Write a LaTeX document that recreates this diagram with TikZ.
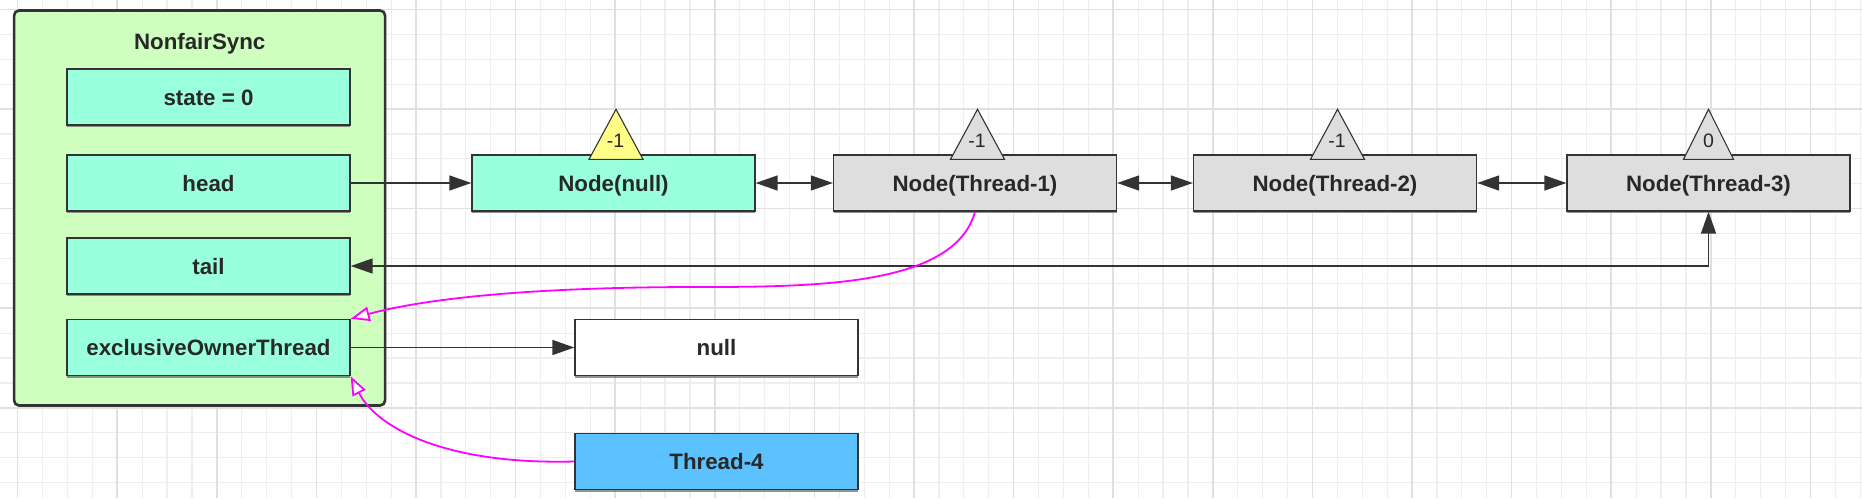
\documentclass[tikz,border=0pt]{standalone}
\usepackage{fontspec}
\setmainfont{Liberation Sans}
\usetikzlibrary{arrows.meta,shadows,calc}
\definecolor{gridminor}{RGB}{238,238,238}
\definecolor{gridmajor}{RGB}{224,224,224}
\definecolor{syncgreen}{RGB}{206,255,190}
\definecolor{aqua}{RGB}{153,255,221}
\definecolor{nodegray}{RGB}{222,222,222}
\definecolor{triyellow}{RGB}{255,255,136}
\definecolor{threadblue}{RGB}{92,194,255}
\definecolor{edgedark}{RGB}{51,51,51}
\definecolor{textdark}{RGB}{40,40,40}
\definecolor{ownermag}{RGB}{255,0,255}
\begin{document}
\begin{tikzpicture}[x=1pt,y=-1pt,
  box/.style={draw=edgedark, line width=1.4pt, minimum width=283pt, minimum height=56pt, inner sep=0pt,
    font=\fontsize{22.3}{26}\selectfont\bfseries, text=textdark, text height=16pt, text depth=0pt,
    drop shadow={shadow xshift=0.3pt, shadow yshift=-2pt, fill=black!60, opacity=0.7}},
  field/.style={box, fill=aqua},
  qnode/.style={box, fill=nodegray},
  tri/.style={draw=edgedark, line width=1.1pt, line join=miter},
  trilabel/.style={inner sep=0pt, font=\fontsize{19.5}{24}\selectfont, text=textdark, text height=14pt, text depth=0pt},
  link/.style={draw=edgedark, line width=1.6pt, -{Triangle[length=22pt,width=15pt]}},
  dlink/.style={draw=edgedark, line width=1.6pt, {Triangle[length=22pt,width=15pt]}-{Triangle[length=22pt,width=15pt]}},
  owner/.style={draw=ownermag, line width=1.8pt, -{Triangle[open,length=19pt,width=14.5pt,fill=white]}},
  gminor/.style={draw=gridminor, line width=1.2pt},
  gmajor/.style={draw=gridmajor, line width=1.5pt},
]
\useasboundingbox (0,0) rectangle (1862,498);
\fill[white] (0,0) rectangle (1862,498);
\begin{scope}
  \clip (0,0) rectangle (1862,498);
  \foreach \i in {-1,...,74} \draw[gminor] ({17.6+24.9*\i},0) -- ({17.6+24.9*\i},498);
  \foreach \j in {-1,...,19} \draw[gminor] (0,{9.4+24.9*\j}) -- (1862,{9.4+24.9*\j});
  \foreach \i in {0,...,18} \draw[gmajor] ({17.6+99.6*\i},0) -- ({17.6+99.6*\i},498);
  \foreach \j in {0,...,4} \draw[gmajor] (0,{9.4+99.6*\j}) -- (1862,{9.4+99.6*\j});
\end{scope}

% NonfairSync container
\node[draw=edgedark, line width=2.6pt, fill=syncgreen, rounded corners=5pt,
      minimum width=371pt, minimum height=395pt, inner sep=0pt] (sync) at (199.6,208) {};
\node[font=\fontsize{22.3}{26}\selectfont\bfseries, text=textdark, anchor=base, inner sep=0pt] (title) at (199.7,49) {NonfairSync};

\node[field] (state) at (208.5,97) {state = 0};
\node[field] (head) at (208.5,183) {head};
\node[field] (tail) at (208.5,266) {tail};
\node[field] (eot) at (208.5,347.5) {exclusiveOwnerThread};

% queue nodes
\node[box, fill=aqua] (n0) at (613.5,183) {Node(null)};
\node[qnode] (n1) at (975,183) {Node(Thread-1)};
\node[qnode] (n2) at (1335,183) {Node(Thread-2)};
\node[qnode] (n3) at (1708.5,183) {Node(Thread-3)};
\node[box, fill=white] (nullv) at (716.5,347.5) {null};
\node[box, fill=threadblue] (t4) at (716.5,461.5) {Thread-4};

% waitStatus triangles
\filldraw[tri, fill=triyellow] ($(n0.north)+(-24.5,5)$) -- ($(n0.north)+(2.5,-45)$) -- ($(n0.north)+(29.5,5)$) -- cycle;
\node[trilabel] (n0w) at ($(n0.north)+(2,-14)$) {-1};
\filldraw[tri, fill=nodegray] ($(n1.north)+(-24.5,5)$) -- ($(n1.north)+(2.5,-45)$) -- ($(n1.north)+(29.5,5)$) -- cycle;
\node[trilabel] (n1w) at ($(n1.north)+(2,-14)$) {-1};
\filldraw[tri, fill=nodegray] ($(n2.north)+(-24.5,5)$) -- ($(n2.north)+(2.5,-45)$) -- ($(n2.north)+(29.5,5)$) -- cycle;
\node[trilabel] (n2w) at ($(n2.north)+(2,-14)$) {-1};
\filldraw[tri, fill=nodegray] ($(n3.north)+(-25,5)$) -- ($(n3.north)+(0,-45)$) -- ($(n3.north)+(25,5)$) -- cycle;
\node[trilabel] (n3w) at ($(n3.north)+(0,-14)$) {0};

% connectors
\draw[link] (head) -- (n0);
\draw[dlink] (n0) -- (n1);
\draw[dlink] (n1) -- (n2);
\draw[dlink] (n2) -- (n3);
\draw[dlink] (tail.east) -| (n3.south);
\draw[link] (eot) -- (nullv);

% owner links
\draw[owner] (n1.south) .. controls (955,285) and (820,287) .. (700,287)
  .. controls (520,287) and (420,300) .. (eot.north east);
\draw[owner] (t4.west) .. controls (440,465) and (375,425) .. (eot.south east);
\end{tikzpicture}
\end{document}
